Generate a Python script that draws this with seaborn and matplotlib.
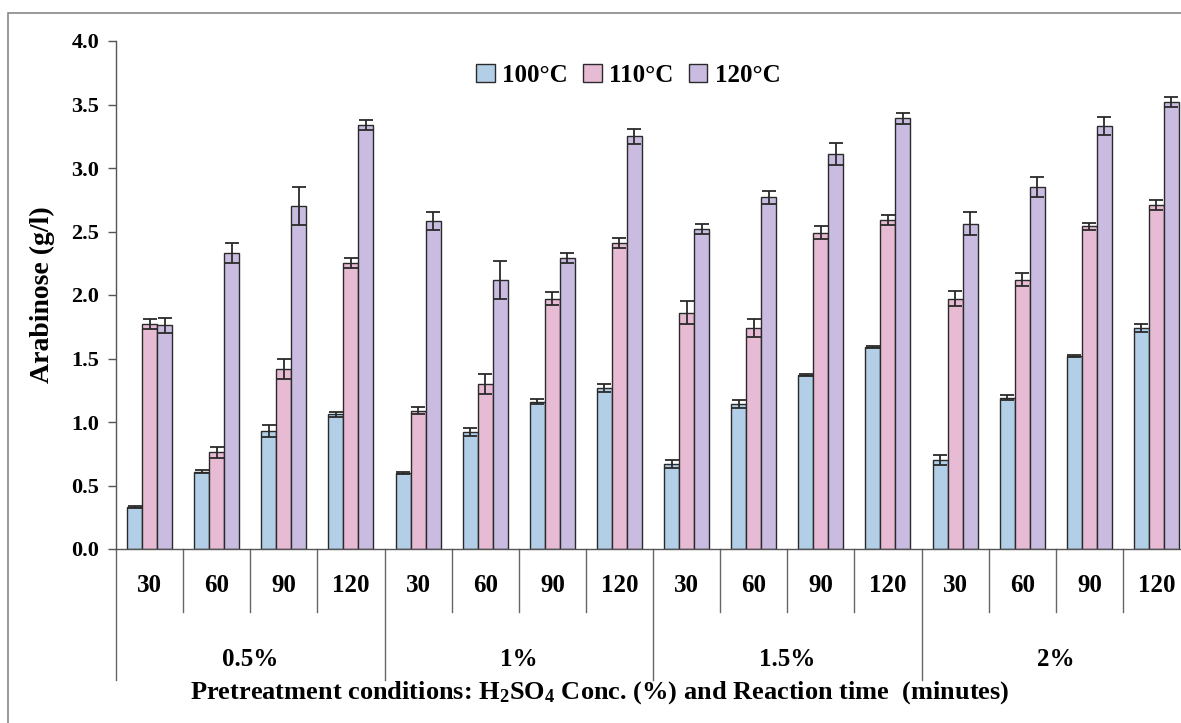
import numpy as np
import pandas as pd
import matplotlib
matplotlib.use("Agg")
import matplotlib.pyplot as plt
import matplotlib.transforms as mtransforms
from matplotlib.patches import Rectangle
import seaborn as sns

# ── data ────────────────────────────────────────────────────────────────────
concs = ["0.5%", "1%", "1.5%", "2%"]
times = ["30", "60", "90", "120"]
temps = ["100°C", "110°C", "120°C"]

ara_100 = [0.33, 0.61, 0.93, 1.06, 0.60, 0.92, 1.16, 1.27,
           0.67, 1.14, 1.37, 1.59, 0.70, 1.19, 1.52, 1.74]
ara_110 = [1.77, 0.76, 1.42, 2.25, 1.09, 1.30, 1.97, 2.41,
           1.86, 1.74, 2.49, 2.59, 1.97, 2.12, 2.54, 2.71]
ara_120 = [1.76, 2.33, 2.70, 3.34, 2.58, 2.12, 2.29, 3.25,
           2.52, 2.77, 3.11, 3.39, 2.56, 2.85, 3.33, 3.52]

err_100 = [0.01, 0.01, 0.05, 0.02, 0.01, 0.03, 0.02, 0.03,
           0.03, 0.03, 0.01, 0.01, 0.04, 0.02, 0.01, 0.03]
err_110 = [0.04, 0.04, 0.08, 0.04, 0.03, 0.08, 0.05, 0.04,
           0.09, 0.07, 0.05, 0.04, 0.06, 0.05, 0.03, 0.04]
err_120 = [0.06, 0.08, 0.15, 0.04, 0.07, 0.15, 0.04, 0.06,
           0.04, 0.05, 0.09, 0.04, 0.09, 0.08, 0.07, 0.04]

COLORS = ["#a9d0f0", "#efb4d6", "#c8b6e6"]

# ── long table for seaborn ──────────────────────────────────────────────────
conds = [f"{c}-{t}" for c in concs for t in times]
rows = []
for temp, vals in zip(temps, [ara_100, ara_110, ara_120]):
    for cond, v in zip(conds, vals):
        rows.append({"cond": cond, "temp": temp, "value": v})
df = pd.DataFrame(rows)
errs = [err_100, err_110, err_120]

serif = ["Liberation Serif", "DejaVu Serif"]
plt.rcParams["font.family"] = serif
plt.rcParams["font.weight"] = "bold"
plt.rcParams["mathtext.fontset"] = "custom"
plt.rcParams["mathtext.rm"] = "Liberation Serif:bold"
plt.rcParams["mathtext.bf"] = "Liberation Serif:bold"

fig = plt.figure(figsize=(11.81, 7.23), dpi=100)
ax = fig.add_axes([116 / 1181, 1 - 549 / 723, (1190 - 116) / 1181, (549 - 41) / 723])

sns.barplot(data=df, x="cond", y="value", hue="temp", order=conds,
            hue_order=temps, palette=COLORS, width=0.67, errorbar=None,
            edgecolor="#2a2a2a", linewidth=1.0, ax=ax)

# error bars
for cont, e in zip(ax.containers, errs):
    xs = [b.get_x() + b.get_width() / 2 for b in cont]
    ys = [b.get_height() for b in cont]
    ax.errorbar(xs, ys, yerr=e, fmt="none", ecolor="#2a2a2a",
                elinewidth=1.3, capsize=5, capthick=1.3)

ax.set_xlim(-0.5, len(conds) - 0.5)
ax.set_ylim(0, 4.0)
ax.set_yticks(np.arange(0, 4.01, 0.5))
ax.set_yticklabels([f"{v:.1f}" for v in np.arange(0, 4.01, 0.5)],
                   fontsize=16, fontweight="bold")
ax.tick_params(axis="y", direction="out", length=6, width=1, color="#555555", pad=6)
ax.set_xticks([])
ax.set_xlabel("")
ax.set_ylabel("Arabinose (g/l)", fontsize=20, fontweight="bold", labelpad=12)
for s in ["top", "right"]:
    ax.spines[s].set_visible(False)
for s in ["left", "bottom"]:
    ax.spines[s].set_color("#555555")
    ax.spines[s].set_linewidth(1.0)

# category table under the axis
trans = mtransforms.blended_transform_factory(ax.transData, ax.transAxes)
for i in range(len(conds) + 1):
    x = i - 0.5
    y_end = -0.258 if i % 4 == 0 else -0.124
    ax.plot([x, x], [0, y_end], color="#666666", lw=1.0,
            transform=trans, clip_on=False)
for i, cond in enumerate(conds):
    ax.text(i, -0.071, cond.split("-")[1], transform=trans, ha="center",
            va="center", fontsize=18, fontweight="bold")
for j, c in enumerate(concs):
    ax.text(4 * j + 1.5, -0.218, c, transform=trans, ha="center",
            va="center", fontsize=18, fontweight="bold")
ax.text(6.7, -0.283,
        r"Pretreatment conditions: $\mathrm{H_2SO_4}$ Conc. (%) and Reaction time  (minutes)",
        transform=trans, ha="center", va="center", fontsize=19, fontweight="bold")

ax.legend(loc="upper center", bbox_to_anchor=(0.477, 1.0), ncol=3, frameon=False,
          handlelength=0.75, handleheight=0.75, handletextpad=0.3,
          columnspacing=0.6, prop={"weight": "bold", "size": 18, "family": serif})

# figure border
fig.patches.append(Rectangle((8 / 1181, -0.05), 1.2, 1 - 13 / 723 + 0.05,
                             transform=fig.transFigure, fill=False,
                             edgecolor="#888888", lw=1.2))

fig.savefig("out.png", dpi=100)
